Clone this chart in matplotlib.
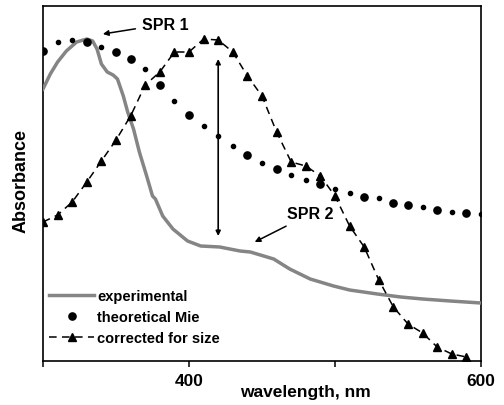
import matplotlib
matplotlib.use("Agg")
import matplotlib.pyplot as plt

plt.rcParams['font.family'] = ['Liberation Sans', 'DejaVu Sans']
plt.rcParams['font.weight'] = 'bold'

# ---- data (arbitrary absorbance units) ----
exp_wl = [300, 305, 310, 316, 323, 330, 334, 337, 340, 344, 348, 351, 355, 358, 362,
          366, 371, 375, 377, 382, 389, 399, 408, 421, 435, 442, 458, 469, 483, 499,
          510, 529, 545, 560, 579, 600]
exp_abs = [272, 287, 299, 310, 319, 322, 320, 312, 297, 289, 286, 282, 265, 249, 232,
           209, 185, 165, 162, 145, 132, 120, 115, 114, 110, 109, 102, 92, 82, 75,
           71, 67, 64, 62, 60, 58]

mie_wl = [300, 310, 320, 330, 340, 350, 360, 370, 380, 390, 400, 410, 420, 430, 440,
          450, 460, 470, 480, 490, 500, 510, 520, 530, 540, 550, 560, 570, 580, 590, 600]
mie_abs = [310, 319, 321, 319, 314, 309, 302, 292, 276, 260, 246, 235, 225, 215, 206,
           198, 192, 186, 181, 177, 172, 168, 164, 163, 158, 156, 154, 151, 149, 148, 147]

cor_wl = [300, 310, 320, 330, 340, 350, 360, 370, 380, 390, 400, 410, 420, 430, 440,
          450, 460, 470, 480, 490, 500, 510, 520, 530, 540, 550, 560, 570, 580, 590]
cor_abs = [139, 146, 159, 179, 200, 221, 245, 276, 289, 309, 309, 322, 321, 309, 285,
           265, 229, 199, 195, 185, 165, 135, 114, 81, 54, 37, 28, 14, 7, 4]

arrow_wl = 420
arrow_top = 302
arrow_bottom = 125

xticks = [300, 400, 500, 600]
xtick_labels = ['', '400', '', '600']

labels = ['experimental', 'theoretical Mie', 'corrected for size']

# ---- figure ----
fig = plt.figure(figsize=(5.04, 4.06), dpi=100)
ax = fig.add_axes([43/504, 44/406, 438/504, 355/406])

ax.plot(exp_wl, exp_abs, color='#858585', lw=2.5, solid_joinstyle='round',
        label=labels[0], zorder=3)

big = [0, 3, 5, 6, 8, 10, 14, 16, 19, 22, 24, 25, 27, 29]
ax.plot(mie_wl, mie_abs, ls='none', marker='o', ms=3.0, color='black',
        zorder=4, clip_on=True)
ax.plot(mie_wl, mie_abs, ls='none', marker='o', ms=5.2, color='black',
        markevery=big, label=labels[1], zorder=4)

ax.plot(cor_wl, cor_abs, color='black', lw=1.1, dashes=(5, 3.5), marker='^',
        ms=6.3, label=labels[2], zorder=5)

ax.annotate('', xy=(arrow_wl, arrow_bottom), xytext=(arrow_wl, arrow_top),
            arrowprops=dict(arrowstyle='<|-|>', color='black', lw=1.2,
                            mutation_scale=7, shrinkA=0, shrinkB=0), zorder=2)

ax.annotate('SPR 1', xy=(341, 327), xytext=(384, 337), ha='center', va='center',
            fontsize=11.5, fontweight='bold',
            arrowprops=dict(arrowstyle='-|>', color='black', lw=1.1,
                            mutation_scale=8, shrinkA=3, shrinkB=0))
ax.annotate('SPR 2', xy=(445, 119), xytext=(483, 147), ha='center', va='center',
            fontsize=11.5, fontweight='bold',
            arrowprops=dict(arrowstyle='-|>', color='black', lw=1.1,
                            mutation_scale=8, shrinkA=3, shrinkB=0))

ax.set_xlim(300, 600)
ax.set_ylim(0, 355)
ax.set_xticks(xticks, labels=xtick_labels)
ax.set_yticks([])
ax.tick_params(axis='x', direction='out', length=4, width=1.1, pad=5,
               labelsize=12.5)
for lab in ax.get_xticklabels():
    lab.set_fontweight('bold')
for s in ax.spines.values():
    s.set_linewidth(1.2)

ax.set_xlabel('wavelength, nm', fontsize=12.5, fontweight='bold')
ax.xaxis.set_label_coords(0.60, -0.065)
ax.set_ylabel('Absorbance', fontsize=13, fontweight='bold')
ax.yaxis.set_label_coords(-0.03, 0.51)

leg = ax.legend(loc='lower left', bbox_to_anchor=(0.014, 0.045), frameon=False,
                fontsize=10.5, handlelength=3.1, handletextpad=0.2,
                labelspacing=0.47, borderpad=0, borderaxespad=0, numpoints=1)
for t in leg.get_texts():
    t.set_fontweight('bold')

fig.savefig('out.png', dpi=100)
